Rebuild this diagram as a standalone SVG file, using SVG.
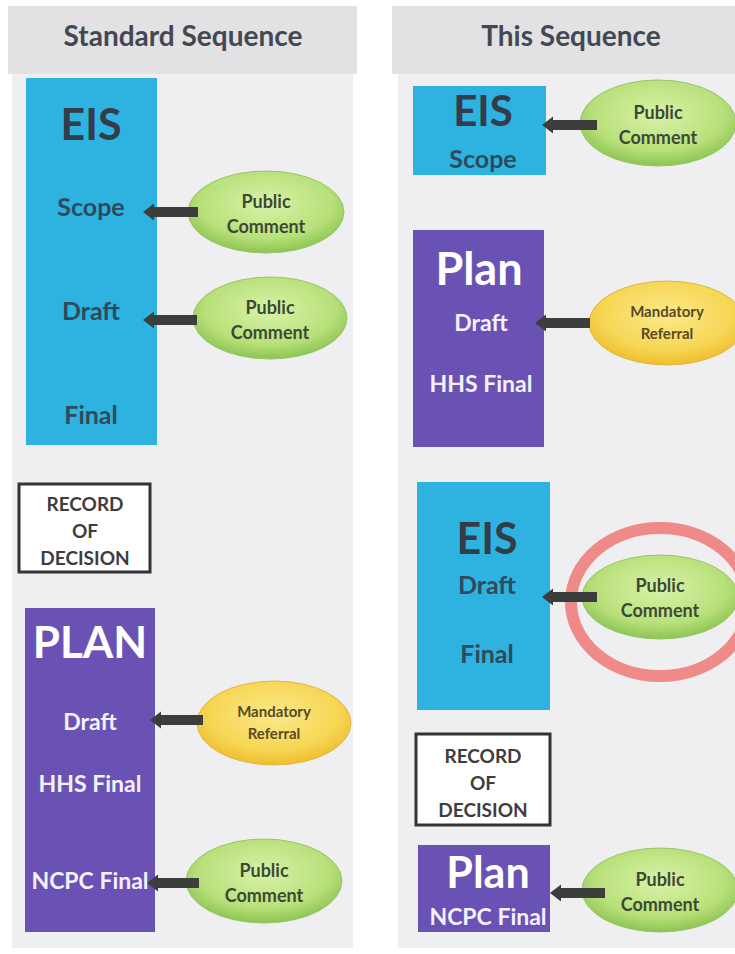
<svg xmlns="http://www.w3.org/2000/svg" width="735" height="954" viewBox="0 0 735 954">
<style>
.hdr{fill:#e2e2e4}
.panel{fill:#efeff1}
.htext{font-family:Lato,"Open Sans","Liberation Sans",sans-serif;font-weight:bold;font-size:28px;fill:#434853;text-anchor:middle}
.eis{fill:#2eb2e0}
.plan{fill:#6a52b4}
.rod{fill:#ffffff;stroke:#333333;stroke-width:3}
.t{font-family:Lato,"Open Sans","Liberation Sans",sans-serif;font-weight:bold;text-anchor:middle;dominant-baseline:central}
.dk{fill:#333c48}
.sub{fill:#2f4a5c;font-size:25px}
.wh{fill:#ffffff}
.wsub{fill:#f4f0ff;font-size:23px}
.rodt{fill:#3e3e3e;font-size:19px}
.pc{fill:url(#gGreen);stroke:#9bc46a;stroke-width:1}
.mr{fill:url(#gYellow);stroke:#e0b840;stroke-width:1}
.et{font-size:18px;fill:#3c4a34}
.mt{font-size:15px;fill:#5a4a24}
.arr{stroke:#3d3d3d;stroke-width:10;fill:none;marker-end:url(#ah)}
.ring{fill:none;stroke:#f08a88;stroke-width:12}
</style>
<defs>
<radialGradient id="gGreen" cx="50%" cy="40%" r="60%">
<stop offset="0" stop-color="#daf2a8"/>
<stop offset="0.7" stop-color="#b8e07a"/>
<stop offset="1" stop-color="#8cc452"/>
</radialGradient>
<radialGradient id="gYellow" cx="50%" cy="40%" r="60%">
<stop offset="0" stop-color="#fbe98a"/>
<stop offset="0.7" stop-color="#f6d654"/>
<stop offset="1" stop-color="#eebd2e"/>
</radialGradient>
<marker id="ah" markerUnits="userSpaceOnUse" markerWidth="11" markerHeight="17" refX="0" refY="8.5" orient="auto" overflow="visible">
<path d="M0,0 L11,8.5 L0,17 Z" fill="#3d3d3d"/>
</marker>
</defs>
<rect width="735" height="954" fill="#ffffff"/>
<!-- panels -->
<rect class="panel" x="12" y="74" width="341" height="874"/>
<rect class="panel" x="398" y="74" width="337" height="874"/>
<rect class="hdr" x="8" y="6" width="349" height="68"/>
<rect class="hdr" x="392" y="6" width="343" height="68"/>
<text class="htext" x="183" y="46">Standard Sequence</text>
<text class="htext" x="571" y="46">This Sequence</text>

<!-- left column -->
<g id="eis-std">
<rect class="eis" x="26" y="78" width="131" height="367"/>
<text class="t dk" x="91" y="123" font-size="43">EIS</text>
<text class="t sub" x="91" y="206">Scope</text>
<text class="t sub" x="91" y="310">Draft</text>
<text class="t sub" x="91" y="414">Final</text>
</g>
<g id="pc-std-scope">
<ellipse class="pc" cx="266" cy="212" rx="78" ry="41"/>
<text class="t et" x="266" y="201">Public</text>
<text class="t et" x="266" y="226">Comment</text>
</g>
<g id="pc-std-draft">
<ellipse class="pc" cx="270" cy="318" rx="77" ry="41"/>
<text class="t et" x="270" y="307">Public</text>
<text class="t et" x="270" y="332">Comment</text>
</g>
<g id="rod-std">
<rect class="rod" x="19" y="484" width="131" height="88"/>
<text class="t rodt" x="85" y="503">RECORD</text>
<text class="t rodt" x="85" y="530">OF</text>
<text class="t rodt" x="85" y="557">DECISION</text>
</g>
<g id="plan-std">
<rect class="plan" x="25" y="608" width="130" height="324"/>
<text class="t wh" x="90" y="641" font-size="44">PLAN</text>
<text class="t wsub" x="90" y="721">Draft</text>
<text class="t wsub" x="90" y="783">HHS Final</text>
<text class="t wsub" x="90" y="880">NCPC Final</text>
</g>
<g id="mr-std">
<ellipse class="mr" cx="274" cy="723" rx="77" ry="42"/>
<text class="t mt" x="274" y="711">Mandatory</text>
<text class="t mt" x="274" y="733">Referral</text>
</g>
<g id="pc-std-ncpc">
<ellipse class="pc" cx="264" cy="881" rx="78" ry="42"/>
<text class="t et" x="264" y="870">Public</text>
<text class="t et" x="264" y="895">Comment</text>
</g>

<!-- right column -->
<g id="eis-this-scope">
<rect class="eis" x="413" y="86" width="133" height="89"/>
<text class="t dk" x="483" y="110" font-size="42">EIS</text>
<text class="t sub" x="483" y="158" font-size="26">Scope</text>
</g>
<g id="pc-this-scope">
<ellipse class="pc" cx="658" cy="123" rx="78" ry="43"/>
<text class="t et" x="658" y="112">Public</text>
<text class="t et" x="658" y="137">Comment</text>
</g>
<g id="plan-this-draft">
<rect class="plan" x="413" y="230" width="131" height="217"/>
<text class="t wh" x="479" y="268" font-size="45">Plan</text>
<text class="t wsub" x="481" y="322">Draft</text>
<text class="t wsub" x="481" y="383">HHS Final</text>
</g>
<g id="mr-this">
<ellipse class="mr" cx="667" cy="323" rx="78" ry="42"/>
<text class="t mt" x="667" y="311">Mandatory</text>
<text class="t mt" x="667" y="333">Referral</text>
</g>
<g id="eis-this-draft">
<rect class="eis" x="417" y="482" width="133" height="228"/>
<text class="t dk" x="487" y="537" font-size="43">EIS</text>
<text class="t sub" x="487" y="584" font-size="26">Draft</text>
<text class="t sub" x="487" y="653" font-size="26">Final</text>
</g>
<g id="highlight-ring">
<ellipse class="ring" cx="660" cy="602" rx="89" ry="74"/>
</g>
<g id="pc-this-draft">
<ellipse class="pc" cx="660" cy="597" rx="78" ry="42"/>
<text class="t et" x="660" y="585">Public</text>
<text class="t et" x="660" y="610">Comment</text>
</g>
<g id="rod-this">
<rect class="rod" x="416" y="734" width="134" height="91"/>
<text class="t rodt" x="483" y="755">RECORD</text>
<text class="t rodt" x="483" y="782">OF</text>
<text class="t rodt" x="483" y="809">DECISION</text>
</g>
<g id="plan-this-ncpc">
<rect class="plan" x="418" y="845" width="132" height="87"/>
<text class="t wh" x="488" y="871" font-size="43">Plan</text>
<text class="t wsub" x="488" y="916" font-size="17.5">NCPC Final</text>
</g>
<g id="pc-this-ncpc">
<ellipse class="pc" cx="660" cy="890" rx="78" ry="42"/>
<text class="t et" x="660" y="879">Public</text>
<text class="t et" x="660" y="904">Comment</text>
</g>

<g id="connectors">
<line class="arr" x1="198" y1="212" x2="154" y2="212"/>
<line class="arr" x1="197" y1="320" x2="154" y2="320"/>
<line class="arr" x1="203" y1="720" x2="161" y2="720"/>
<line class="arr" x1="199" y1="883" x2="158" y2="883"/>
<line class="arr" x1="597" y1="125" x2="553" y2="125"/>
<line class="arr" x1="590" y1="323" x2="546" y2="323"/>
<line class="arr" x1="597" y1="597" x2="553" y2="597"/>
<line class="arr" x1="605" y1="893" x2="561" y2="893"/>
</g>
</svg>
